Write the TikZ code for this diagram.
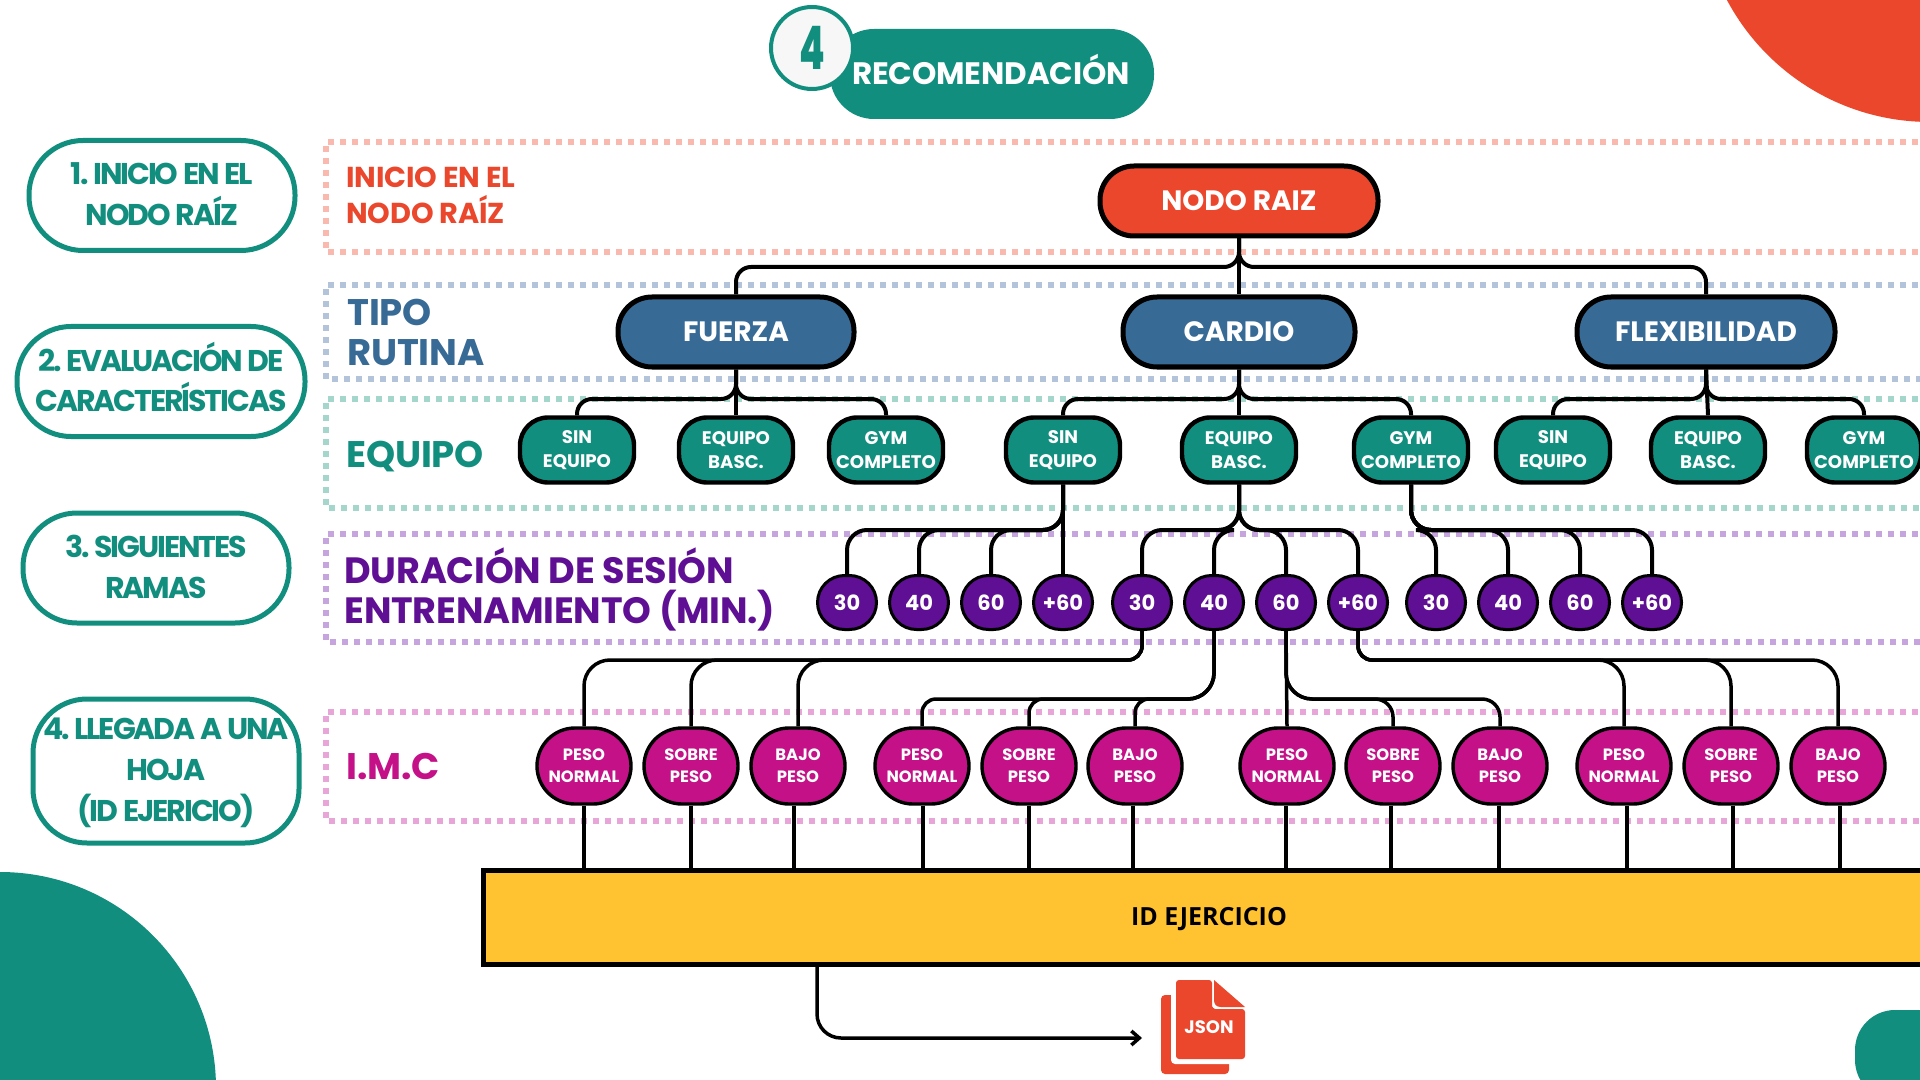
\documentclass[tikz,border=0pt]{standalone}
\usepackage{fontspec}
\setmainfont{Poppins}
\newfontfamily\hd{Poppins}[LetterSpace=-0.5]
\newfontfamily\tight{Poppins}[LetterSpace=-7]
\newfontfamily\fat{Poppins}[BoldFont={* ExtraBold}]
\newfontfamily\opn{Open Sans}
\newcommand\wsp{\hspace{2.4pt}}
\usetikzlibrary{arrows.meta}
\definecolor{teal1}{HTML}{128E7F}
\definecolor{red1}{HTML}{EA472D}
\definecolor{blue1}{HTML}{386A96}
\definecolor{purp1}{HTML}{5F0F93}
\definecolor{mag1}{HTML}{C41188}
\definecolor{yel1}{HTML}{FFC230}
\tikzset{
 x=0.5pt,y=-0.5pt,
 conn/.style={draw=black,line width=2pt,rounded corners=7.5pt},
 conntwo/.style={draw=black,line width=2pt,rounded corners=10pt},
 thin conn/.style={draw=black,line width=1.75pt},
 longconn/.style={draw=black,line width=1.75pt},
 band/.style={line width=3pt,dash pattern=on 3pt off 3pt},
 side/.style={draw=teal1,fill=white,line width=2.5pt,rounded corners=27pt,inner sep=0pt,minimum height=55pt},
 sidetext/.style={inner sep=0pt,font=\tight\bfseries\fontsize{15}{20.4}\selectfont,text=teal1,align=center},
 label/.style={anchor=west,inner sep=0,align=left,font=\bfseries},
 main/.style={draw=black,line width=2.5pt,rounded corners=17pt,minimum height=35pt,inner sep=0pt,text=white,font=\bfseries\fontsize{14}{16}\selectfont},
 equip/.style={draw=black,fill=teal1,line width=2.2pt,rounded corners=14pt,minimum width=57pt,minimum height=32.5pt,inner sep=0pt,text=white,align=center,font=\bfseries\fontsize{9.1}{12}\selectfont},
 dur/.style={draw=black,fill=purp1,line width=1.5pt,rounded corners=13.5pt,minimum width=29.5pt,minimum height=27pt,inner sep=0pt,text=white,font=\bfseries\fontsize{10.5}{11}\selectfont},
 imc/.style={draw=black,fill=mag1,line width=1.7pt,rounded corners=19pt,minimum width=47pt,minimum height=38pt,inner sep=0pt,text=white,align=center,font=\bfseries\fontsize{8.2}{10.9}\selectfont},
}
\begin{document}
\begin{tikzpicture}
\clip (0,0) rectangle (1920,1080);
\fill[white] (0,0) rectangle (1920,1080);
% decorations
\fill[red1] (1930,-108) circle[radius=115pt];
\fill[teal1] (0,1088) circle[radius=108pt];
\fill[teal1,rounded corners=20pt] (1855,1100) -- (1855,1010) -- (1960,1010) -- (1960,1100) -- cycle;
% bands
\foreach \t/\b/\c in {142/252/F9B9AE,285/379/B3C4DA,399/508/A4D6CB,534/642/C6A5DE,712/821/E8A6D8}{
 \definecolor{bc}{HTML}{\c}
 \draw[band,draw=bc] (1930,\t) -- (326,\t) -- (326,\b) -- (1930,\b);
}
% header
\node[fill=teal1,rounded corners=22pt,minimum width=162pt,minimum height=45pt,inner sep=0] (rec) at (992,74) {};
\node[text=white,inner sep=0,font=\hd\bfseries\fontsize{15.5}{18}\selectfont] (rect) at (991,69.5) {RECOMENDACIÓN};
\node[circle,draw=teal1,fill=white!97!black,line width=2pt,minimum size=41pt,inner sep=0,text=teal1,font=\fat\bfseries\fontsize{30}{32}\selectfont] (four) at (812,48) {\scalebox{0.62}[1]{4}};
% side pills
\node[side,minimum width=133pt] (s1) at (162,195.5) {};
\node[sidetext] (s1t) at (162,194) {1.\wsp INICIO\wsp EN\wsp EL\\NODO\wsp RAÍZ};
\node[side,minimum width=144pt] (s2) at (161,381.5) {};
\node[sidetext] (s2t) at (161,377) {2.\wsp EVALUACIÓN\wsp DE\\CARACTERÍSTICAS};
\node[side,minimum width=133pt] (s3) at (156,568) {};
\node[sidetext] (s3t) at (156,567) {3.\wsp SIGUIENTES\\RAMAS};
\node[side,minimum width=133pt,minimum height=72pt] (s4) at (166,771) {};
\node[sidetext] (s4t) at (166,773) {4.\wsp LLEGADA\wsp A\wsp UNA\\HOJA\\(ID\wsp EJERICIO)};
% row labels
\node[label,text=red1,font=\hd\bfseries\fontsize{14.4}{18}\selectfont] (l1) at (346,195) {INICIO EN EL\\NODO RAÍZ};
\node[label,text=blue1,font=\hd\bfseries\fontsize{18.5}{20}\selectfont] (l2) at (347,332) {TIPO\\RUTINA};
\node[label,text=teal1,font=\hd\bfseries\fontsize{18.5}{20}\selectfont] (l3) at (346,457) {EQUIPO};
\node[label,text=purp1,font=\hd\bfseries\fontsize{18.3}{20}\selectfont] (l4) at (344,589.5) {DURACIÓN DE SESIÓN\\ENTRENAMIENTO (MIN.)};
\node[label,text=mag1,font=\hd\bfseries\fontsize{18.5}{20}\selectfont] (l5) at (346,767) {I.M.C};
% main nodes
\node[main,fill=red1,minimum width=139pt] (root) at (1239,201) {NODO RAIZ};
\node[main,fill=blue1,minimum width=118pt] (fu) at (736,332) {FUERZA};
\node[main,fill=blue1,minimum width=116pt] (ca) at (1239,332) {CARDIO};
\node[main,fill=blue1,minimum width=129pt] (fl) at (1706,332) {FLEXIBILIDAD};
% equipment
\foreach \n/\x/\a/\b in {e1/577/SIN/EQUIPO,e2/736/EQUIPO/BASC.,e3/886/GYM/COMPLETO,e4/1063/SIN/EQUIPO,e5/1239/EQUIPO/BASC.,e6/1411/GYM/COMPLETO,e7/1553/SIN/EQUIPO,e8/1708/EQUIPO/BASC.,e9/1864/GYM/COMPLETO}
 \node[equip] (\n) at (\x,450) {\a\\\b};
% durations
\foreach \n/\x/\a in {d1/847/30,d2/919/40,d3/991/60,d4/1063/+60,d5/1142/30,d6/1214/40,d7/1286/60,d8/1358/+60,d9/1436/30,d10/1508/40,d11/1580/60,d12/1652/+60}
 \node[dur] (\n) at (\x,602.5) {\a};
% imc
\foreach \n/\x/\a/\b in {i1/584/PESO/NORMAL,i2/691/SOBRE/PESO,i3/798/BAJO/PESO,i4/922/PESO/NORMAL,i5/1029/SOBRE/PESO,i6/1135/BAJO/PESO,i7/1287/PESO/NORMAL,i8/1393/SOBRE/PESO,i9/1500/BAJO/PESO,i10/1624/PESO/NORMAL,i11/1731/SOBRE/PESO,i12/1838/BAJO/PESO}
 \node[imc] (\n) at (\x,766) {\a\\\b};
% box
\node[draw=black,fill=yel1,line width=2.5pt,minimum width=726pt,minimum height=47pt,inner sep=0] (box) at (1209.5,917) {};
\node[inner sep=0,font=\opn\bfseries\fontsize{12.5}{14}\selectfont] (boxt) at (1209,919.5) {ID EJERCICIO};
% json
\fill[red1,rounded corners=2pt] (1161,995) rectangle (1229,1074);
\fill[white,rounded corners=2pt] (1171,975) rectangle (1250,1064);
\fill[red1,rounded corners=1.5pt] (1176,980) -- (1212,980) -- (1212,1003) .. controls (1212,1007) and (1214,1009) .. (1218,1009) -- (1245,1009) -- (1245,1059) -- (1176,1059) -- cycle;
\fill[red1] (1214,980) -- (1245,1007) -- (1221,1007) .. controls (1216,1007) and (1214,1004) .. (1214,1000) -- cycle;
\node[text=white,inner sep=0,font=\bfseries\fontsize{9}{10}\selectfont] (js) at (1209,1027) {JSON};
% connectors root
\coordinate (y1) at (0,267);
\draw[conn] (root.south) -- (ca.north);
\draw[conn] (root.south) |- (fu.north |- y1) -- (fu.north);
\draw[conn] (root.south) |- (fl.north |- y1) -- (fl.north);
% type to equip
\coordinate (y2) at (0,399);
\draw[conn] (fu.south) -- (e2.north);
\draw[conn] (fu.south) |- (e1.north |- y2) -- (e1.north);
\draw[conn] (fu.south) |- (e3.north |- y2) -- (e3.north);
\draw[conn] (ca.south) -- (e5.north);
\draw[conn] (ca.south) |- (e4.north |- y2) -- (e4.north);
\draw[conn] (ca.south) |- (e6.north |- y2) -- (e6.north);
\draw[conn] (fl.south) -- (e8.north);
\draw[conn] (fl.south) |- (e7.north |- y2) -- (e7.north);
\draw[conn] (fl.south) |- (e9.north |- y2) -- (e9.north);
% equip to duration
\coordinate (y3) at (0,530);
\draw[conntwo] (e4.south) -- (d4.north);
\foreach \d in {d1,d2,d3} \draw[conntwo] (e4.south) |- (\d.north |- y3) -- (\d.north);
\foreach \d in {d5,d6,d7,d8} \draw[conntwo] (e5.south) |- (\d.north |- y3) -- (\d.north);
\foreach \d in {d9,d10,d11,d12} \draw[conntwo] (e6.south) |- (\d.north |- y3) -- (\d.north);
% duration to imc
\coordinate (y4) at (0,660);
\coordinate (y5) at (0,699);
\foreach \i in {i1,i2,i3} \draw[longconn,rounded corners=7pt] (d5.south) -- (d5.south |- y4) [rounded corners=13pt] -- (\i.north |- y4) -- (\i.north);
\foreach \i in {i4,i5,i6} \draw[longconn,rounded corners=13pt] (d6.south) -- (d6.south |- y5) [rounded corners=7pt] -- (\i.north |- y5) -- (\i.north);
\draw[thin conn] (d7.south) -- (i7.north);
\foreach \i in {i8,i9} \draw[longconn,rounded corners=13pt] (d7.south) -- (d7.south |- y5) [rounded corners=9pt] -- (\i.north |- y5) -- (\i.north);
\foreach \i in {i10,i11,i12} \draw[longconn,rounded corners=7pt] (d8.south) -- (d8.south |- y4) [rounded corners=13pt] -- (\i.north |- y4) -- (\i.north);
% imc to box
\foreach \i/\dx in {i1/0,i2/0,i3/-4,i4/1,i5/0,i6/-2,i7/-1,i8/-2,i9/-1,i10/3,i11/2,i12/2}
 \draw[thin conn] ([xshift=\dx*0.5pt]\i.south) -- ([xshift=\dx*0.5pt]\i.south |- box.north);
% output arrow
\coordinate (cx) at (817,0);
\coordinate (ae) at (1142,1038);
\draw[longconn,rounded corners=12pt,-{Straight Barb[length=4pt,width=7pt]}] (box.south -| cx) |- (ae);
\end{tikzpicture}
\end{document}
